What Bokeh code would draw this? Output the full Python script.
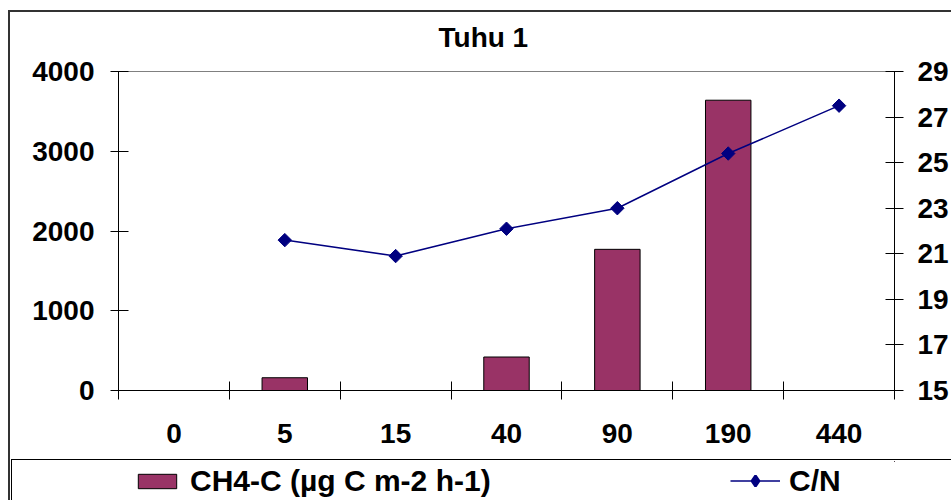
import numpy as np
from bokeh.plotting import figure
from bokeh.layouts import column
from bokeh.models import (Range1d, LinearAxis, FixedTicker, Legend, LegendItem,
                          ColumnDataSource, InlineStyleSheet)
from bokeh.embed import file_html
from bokeh.resources import INLINE

categories = ["0", "5", "15", "40", "90", "190", "440"]
ch4 = [np.nan, 160, np.nan, 420, 1770, 3640, np.nan]
cn = [np.nan, 21.6, 20.9, 22.1, 23.0, 25.4, 27.5]
left_ticks = [0, 1000, 2000, 3000, 4000]
right_ticks = [15, 17, 19, 21, 23, 25, 27, 29]
series_names = ["CH4-C (µg C m-2 h-1)", "C/N"]

FONT = "Liberation Sans"
BAR_STYLE = dict(fill_color="#993366", line_color="black", line_width=1)
LINE_STYLE = dict(line_color="#000080", line_width=1.5)
MARK_STYLE = dict(marker="square", angle=np.pi / 4, size=9.5,
                  fill_color="#000080", line_color="#000080")

xs = [i + 0.5 for i in range(len(categories))]
src = ColumnDataSource(dict(x=xs, ch4=ch4, cn=cn))

p = figure(width=951, height=449, output_backend="svg", toolbar_location=None,
           x_range=Range1d(0, len(categories)), y_range=Range1d(0, 4000),
           min_border_left=118, min_border_right=57, min_border_top=71,
           min_border_bottom=59, tools="")
p.extra_y_ranges = {"cn": Range1d(15, 29)}
p.xaxis.visible = False
p.yaxis.visible = False
p.xgrid.visible = False
p.ygrid.visible = False
p.outline_line_color = "#808080"
p.outline_line_width = 1
p.background_fill_color = "white"
p.border_fill_color = "white"

# outer chart border (runs off the window, as in the reference)
p.stylesheets = [InlineStyleSheet(css="""
:host { position: relative; overflow: hidden; }
:host::before { content: ""; position: absolute; left: 8px; top: 10px; width: 2000px; height: 2000px;
  border-left: 2px solid #333333; border-top: 2px solid #333333; pointer-events: none; z-index: 5; }
""")]

# x axis (category labels centred, ticks at category boundaries)
xax = LinearAxis(ticker=FixedTicker(ticks=xs, minor_ticks=list(range(len(categories) + 1))),
                 major_label_overrides={x: c for x, c in zip(xs, categories)})
xax.major_tick_line_color = None
xax.major_tick_in = 0
xax.major_tick_out = 0
xax.minor_tick_in = 9
xax.minor_tick_out = 9
xax.minor_tick_line_color = "black"
xax.axis_line_color = "black"
xax.major_label_standoff = 24
xax.major_label_text_font = FONT
xax.major_label_text_font_style = "bold"
xax.major_label_text_font_size = "28px"
xax.major_label_text_color = "black"
p.add_layout(xax, "below")

yax = LinearAxis(ticker=FixedTicker(ticks=left_ticks, minor_ticks=[]))
yax.major_tick_in = 10
yax.major_tick_out = 8
yax.major_tick_line_color = "black"
yax.axis_line_color = "black"
yax.major_label_standoff = 16
yax.major_label_text_font = FONT
yax.major_label_text_font_style = "bold"
yax.major_label_text_font_size = "28px"
yax.major_label_text_color = "black"
p.add_layout(yax, "left")

yax2 = LinearAxis(y_range_name="cn", ticker=FixedTicker(ticks=right_ticks, minor_ticks=[]))
yax2.major_tick_in = 9
yax2.major_tick_out = 9
yax2.major_tick_line_color = "black"
yax2.axis_line_color = "black"
yax2.major_label_standoff = 14
yax2.major_label_text_font = FONT
yax2.major_label_text_font_style = "bold"
yax2.major_label_text_font_size = "28px"
yax2.major_label_text_color = "black"
p.add_layout(yax2, "right")

p.vbar(x="x", top="ch4", bottom=0, width=0.41, source=src, **BAR_STYLE)
p.line(x="x", y="cn", source=src, y_range_name="cn", **LINE_STYLE)
p.scatter(x="x", y="cn", source=src, y_range_name="cn", **MARK_STYLE)

p.title.text = "Tuhu 1"
p.title.text_font = FONT
p.title.text_font_style = "bold"
p.title.text_font_size = "28px"
p.title.text_color = "black"
p.title.align = "left"
p.title.offset = 320
p.title.standoff = 37

# legend strip below the chart (its renderers share the data but lie outside its view)
lg = figure(width=951, height=51, output_backend="svg", toolbar_location=None,
            x_range=Range1d(-20, -19), y_range=Range1d(-20, -19),
            x_axis_type=None, y_axis_type=None,
            min_border_left=118, min_border_right=57, min_border_top=12,
            min_border_bottom=0, tools="")
lg.xgrid.visible = False
lg.ygrid.visible = False
lg.outline_line_color = None
lg.background_fill_color = "white"
lg.border_fill_color = "white"
lg.stylesheets = [InlineStyleSheet(css="""
:host { position: relative; overflow: hidden; }
:host::before { content: ""; position: absolute; left: 8px; top: 0px; width: 2000px; height: 2000px;
  border-left: 2px solid #333333; pointer-events: none; z-index: 5; }
:host::after { content: ""; position: absolute; left: 11px; top: 10px; width: 2000px; height: 2000px;
  border-left: 1.5px solid #000000; border-top: 1.5px solid #000000; pointer-events: none; z-index: 5; }
""")]
rb = lg.vbar(x="x", top="ch4", bottom=0, width=0.41, source=src, **BAR_STYLE)
rl = lg.line(x="x", y="cn", source=src, **LINE_STYLE)
rm = lg.scatter(x="x", y="cn", source=src, marker="diamond", line_width=2.5,
                fill_color="#000080", line_color="#000080")

LEG_TEXT = dict(orientation="horizontal", location="center_left", label_standoff=9,
                label_width=0, padding=0, border_line_color=None, background_fill_alpha=0,
                label_text_font=FONT, label_text_font_style="bold",
                label_text_font_size="30px", label_text_color="black")
leg_a = Legend(items=[LegendItem(label=series_names[0], renderers=[rb])],
               glyph_width=48, glyph_height=18, margin=15, **LEG_TEXT)
leg_b = Legend(items=[LegendItem(label=series_names[1], renderers=[rl, rm])],
               glyph_width=50, glyph_height=27, margin=612, **LEG_TEXT)
lg.add_layout(leg_a, "center")
lg.add_layout(leg_b, "center")

open("out.html", "w").write(file_html(column(p, lg, spacing=0), INLINE))
